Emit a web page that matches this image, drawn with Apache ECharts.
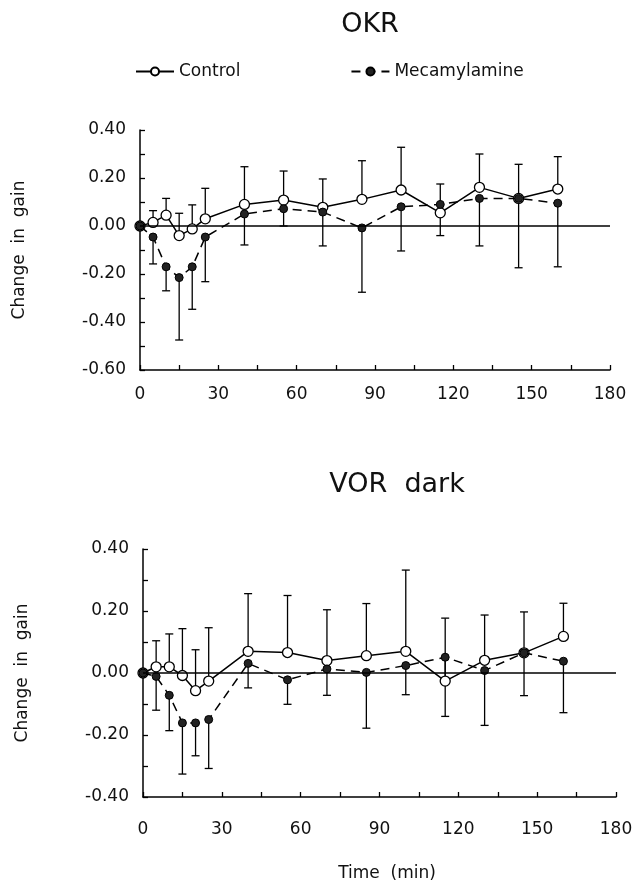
<!DOCTYPE html>
<html>
<head>
<meta charset="utf-8">
<script src="https://cdn.jsdelivr.net/npm/echarts@6/dist/echarts.min.js"></script>
<style>html,body{margin:0;padding:0;background:#fff}#c{width:640px;height:888px}</style>
</head>
<body>
<div id="c"></div>
<script>
// ---- data ----
var times = [0, 5, 10, 15, 20, 25, 40, 55, 70, 85, 100, 115, 130, 145, 160];
var xTicks = [0, 30, 60, 90, 120, 150, 180];
var okrYTicks = [-0.60, -0.40, -0.20, 0.00, 0.20, 0.40];
var vorYTicks = [-0.40, -0.20, 0.00, 0.20, 0.40];

var okrControl      = [0, 0.015, 0.045, -0.040, -0.012, 0.030, 0.090, 0.108, 0.078, 0.111, 0.150, 0.055, 0.161, 0.115, 0.154];
var okrMeca         = [0, -0.046, -0.170, -0.215, -0.170, -0.046, 0.050, 0.072, 0.058, -0.008, 0.080, 0.090, 0.115, 0.115, 0.095];
var okrControlUpper = [null, 0.064, 0.115, 0.053, 0.088, 0.157, 0.247, 0.229, 0.196, 0.272, 0.328, 0.175, 0.300, 0.257, 0.289];
var okrMecaLower    = [null, -0.158, -0.270, -0.475, -0.347, -0.232, -0.079, 0.000, -0.083, -0.276, -0.104, -0.040, -0.083, -0.174, -0.170];

var vorControl      = [0, 0.020, 0.020, -0.008, -0.057, -0.026, 0.070, 0.066, 0.040, 0.056, 0.070, -0.026, 0.041, 0.065, 0.118];
var vorMeca         = [0, -0.011, -0.072, -0.161, -0.161, -0.150, 0.031, -0.022, 0.013, 0.002, 0.024, 0.051, 0.008, 0.065, 0.038];
var vorControlUpper = [null, 0.104, 0.126, 0.143, 0.075, 0.146, 0.256, 0.250, 0.204, 0.224, 0.332, 0.177, 0.187, 0.197, 0.225];
var vorMecaLower    = [null, -0.120, -0.186, -0.326, -0.267, -0.308, -0.048, -0.101, -0.072, -0.178, -0.070, -0.140, -0.169, -0.073, -0.128];

// ---- helpers ----
var FONT = 'DejaVu Sans';
function pairs(vals) { return times.map(function (t, i) { return [t, vals[i]]; }); }
function barData(vals, ends) {
  var out = [];
  times.forEach(function (t, i) { if (ends[i] !== null) out.push([t, vals[i], ends[i]]); });
  return out;
}
function errRender(params, api) {
  var p0 = api.coord([api.value(0), api.value(1)]);
  var p1 = api.coord([api.value(0), api.value(2)]);
  var hw = 4;
  var st = { stroke: '#000', lineWidth: 1.3 };
  return {
    type: 'group',
    children: [
      { type: 'line', shape: { x1: p0[0], y1: p0[1], x2: p1[0], y2: p1[1] }, style: st },
      { type: 'line', shape: { x1: p1[0] - hw, y1: p1[1], x2: p1[0] + hw, y2: p1[1] }, style: st }
    ]
  };
}
function xAxis(gi, margin) {
  return {
    type: 'value', gridIndex: gi, min: 0, max: 180, interval: 30,
    axisLine: { show: true, onZero: false, lineStyle: { color: '#000', width: 1.5 } },
    axisTick: { show: true, inside: true, length: 5, lineStyle: { color: '#000', width: 1.3 } },
    minorTick: { show: true, splitNumber: 2, length: 5, lineStyle: { color: '#000', width: 1.3 } },
    splitLine: { show: false },
    axisLabel: { color: '#111', fontFamily: FONT, fontSize: 17, margin: margin,
      formatter: function (v) { return xTicks.indexOf(v) >= 0 ? String(v) : ''; } }
  };
}
function yAxis(gi, min, max, ticks) {
  return {
    type: 'value', gridIndex: gi, min: min, max: max, interval: 0.2,
    name: 'Change  in  gain', nameLocation: 'middle', nameGap: 112,
    nameTextStyle: { color: '#111', fontFamily: FONT, fontSize: 17 },
    axisLine: { show: true, onZero: false, lineStyle: { color: '#000', width: 1.5 } },
    axisTick: { show: true, inside: true, length: 5, lineStyle: { color: '#000', width: 1.3 } },
    minorTick: { show: true, splitNumber: 2, length: 5, lineStyle: { color: '#000', width: 1.3 } },
    splitLine: { show: false },
    axisLabel: { color: '#111', fontFamily: FONT, fontSize: 17, margin: 14,
      formatter: function (v) {
        var r = Math.round(v * 100) / 100;
        for (var i = 0; i < ticks.length; i++) if (Math.abs(ticks[i] - r) < 1e-9) return ticks[i].toFixed(2);
        return '';
      } }
  };
}
var openSym = { color: '#fff', borderColor: '#000', borderWidth: 1.3 };
var fillSym = { color: '#222', borderColor: '#000', borderWidth: 1 };
function ctrlSeries(gi, vals) {
  return {
    name: 'Control', type: 'line', xAxisIndex: gi, yAxisIndex: gi, data: pairs(vals),
    symbol: 'circle', symbolSize: 10, showSymbol: true, z: 3,
    lineStyle: { color: '#000', width: 1.5 }, itemStyle: openSym,
    markLine: { silent: true, symbol: ['none', 'none'], label: { show: false },
      lineStyle: { color: '#000', width: 1.5, type: 'solid' }, data: [{ yAxis: 0 }] }
  };
}
function mecaSeries(gi, vals) {
  return {
    name: 'Mecamylamine', type: 'line', xAxisIndex: gi, yAxisIndex: gi, data: pairs(vals),
    symbol: 'circle', symbolSize: 8, showSymbol: true, z: 4,
    lineStyle: { color: '#000', width: 1.5, type: [9, 6] }, itemStyle: fillSym
  };
}
function errSeries(gi, vals, ends) {
  return { type: 'custom', xAxisIndex: gi, yAxisIndex: gi, data: barData(vals, ends),
    renderItem: errRender, z: 2, silent: true, encode: { x: 0, y: [1, 2] } };
}

var chart = echarts.init(document.getElementById('c'), null, { renderer: 'canvas' });
chart.setOption({
  backgroundColor: '#fff',
  animation: false,
  title: [
    { text: 'OKR', left: 365, top: 6, textAlign: 'center',
      textStyle: { fontFamily: FONT, fontSize: 27, fontWeight: 'normal', color: '#111' } },
    { text: 'VOR  dark', left: 392, top: 466, textAlign: 'center',
      textStyle: { fontFamily: FONT, fontSize: 27, fontWeight: 'normal', color: '#111' } },
    { text: 'Time  (min)', left: 382, top: 860, textAlign: 'center',
      textStyle: { fontFamily: FONT, fontSize: 17, fontWeight: 'normal', color: '#111' } }
  ],
  legend: {
    top: 58, left: 130, itemGap: 110, itemWidth: 38, itemHeight: 10,
    data: ['Control', 'Mecamylamine'],
    textStyle: { fontFamily: FONT, fontSize: 17, color: '#111' }
  },
  grid: [
    { left: 140, top: 130, width: 470, height: 240 },
    { left: 143, top: 549, width: 473, height: 248 }
  ],
  xAxis: [xAxis(0, 16), xAxis(1, 24)],
  yAxis: [yAxis(0, -0.6, 0.4, okrYTicks), yAxis(1, -0.4, 0.4, vorYTicks)],
  series: [
    errSeries(0, okrControl, okrControlUpper),
    errSeries(0, okrMeca, okrMecaLower),
    ctrlSeries(0, okrControl),
    mecaSeries(0, okrMeca),
    errSeries(1, vorControl, vorControlUpper),
    errSeries(1, vorMeca, vorMecaLower),
    ctrlSeries(1, vorControl),
    mecaSeries(1, vorMeca)
  ]
});
</script>
</body>
</html>
